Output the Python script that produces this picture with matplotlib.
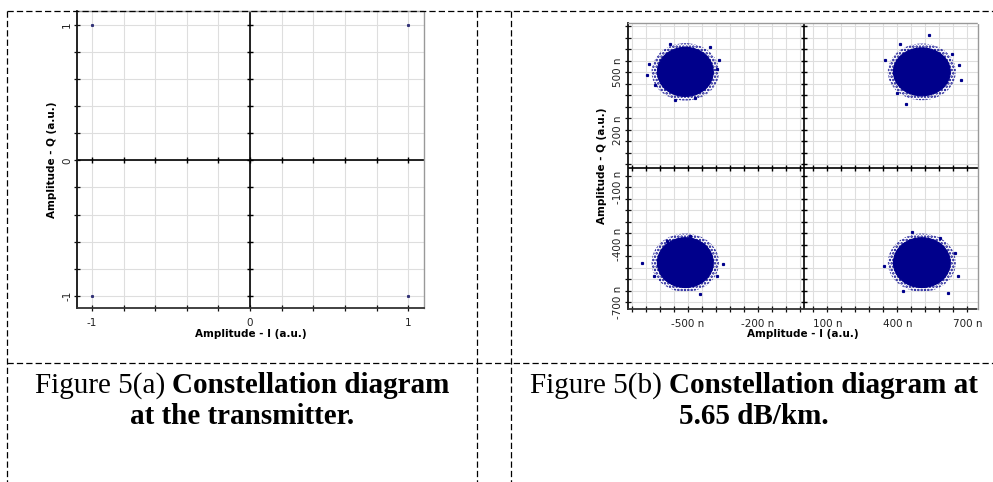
import matplotlib
matplotlib.use('Agg')
import matplotlib.pyplot as plt
from matplotlib.patches import Ellipse
from matplotlib.lines import Line2D

W, H = 993, 482

# --- (a) constellation at the transmitter (a.u.)
tx_I = [-1, 1, -1, 1]
tx_Q = [1, 1, -1, -1]
a_major = [-1, 0, 1]
a_minor = [-1, -0.8, -0.6, -0.4, -0.2, 0, 0.2, 0.4, 0.6, 0.8, 1]

# --- (b) constellation at 5.65 dB/km (values in n)
rx_I = [-510, 505, -510, 505]
rx_Q = [503, 503, -493, -493]
core_rI = [120, 122, 120, 122]
core_rQ = [128, 125, 130, 130]
fringe_rI = [145, 146, 145, 146]
fringe_rQ = [150, 148, 152, 152]
out_I = [-667, -674, -367, -374, -403, -574, -553, -467, -639,
         536, 674, 666, 348, 438, 412, 634, 398,
         -696, -349, -489, -446, -646, -374, -589,
         462, 662, 341, 619, 426, 584, 648]
out_Q = [546, 486, 564, 520, 633, 650, 356, 364, 434,
         694, 460, 538, 564, 335, 650, 598, 390,
         -493, -502, -354, -658, -562, -562, -380,
         -332, -562, -510, -649, -640, -363, -441]
b_xmajor = [-500, -200, 100, 400, 700]
b_ymajor = [-700, -400, -100, 200, 500]
b_xminor = [-740, -680, -620, -560, -500, -440, -380, -320, -260, -200,
            -140, -80, -20, 40, 100, 160, 220, 280, 340, 400, 460, 520,
            580, 640, 700]
b_yminor = [-700, -640, -580, -520, -460, -400, -340, -280, -220, -160,
            -100, -40, 20, 80, 140, 200, 260, 320, 380, 440, 500, 560,
            620, 680, 740]

cap_a = [[("Figure 5(a)", "normal"), ("Constellation diagram", "bold")],
         [("at the transmitter.", "bold")]]
cap_b = [[("Figure 5(b)", "normal"), ("Constellation diagram at", "bold")],
         [("5.65 dB/km.", "bold")]]

navy = '#00008b'
lab_font = dict(family='DejaVu Sans', fontsize=7.5, fontweight='bold')
plt.rcParams['hatch.linewidth'] = 1.2


def fx(px):
    return px / W


def fy(py):
    return 1 - py / H


fig = plt.figure(figsize=(W / 100, H / 100), dpi=100)


def style(ax, xmajor, ymajor, xminor, yminor, xlim, ylim, xlabels, ylabels,
          xlab_y, ylab_x):
    ax.set_xticks(xmajor)
    ax.set_yticks(ymajor)
    ax.set_xticks(xminor, minor=True)
    ax.set_yticks(yminor, minor=True)
    ax.set_xticklabels(xlabels)
    ax.set_yticklabels(ylabels, rotation=90, va='center')
    ax.grid(True, which='both', color='#dedede', lw=0.8)
    ax.set_axisbelow(True)
    ax.tick_params(which='both', direction='inout', length=4, width=0.9,
                   color='#111111', labelsize=7.5, labelcolor='#222222')
    ax.tick_params(axis='x', pad=5)
    ax.tick_params(axis='y', pad=1.5)
    ax.spines['left'].set_color('#111111')
    ax.spines['left'].set_linewidth(1.3)
    ax.spines['bottom'].set_color('#333333')
    ax.spines['bottom'].set_linestyle((0, (1, 1)))
    ax.spines['bottom'].set_linewidth(1.3)
    for s in ['top', 'right']:
        ax.spines[s].set_color('#999999')
        ax.spines[s].set_linestyle((0, (1, 1)))
        ax.spines[s].set_linewidth(1.0)
    ax.axhline(0, color='black', lw=1.2, zorder=2)
    ax.axvline(0, color='black', lw=1.2, zorder=2)
    ax.plot(xminor, [0] * len(xminor), ls='none', marker='|', ms=4,
            mew=1, color='black', zorder=2)
    ax.plot([0] * len(yminor), yminor, ls='none', marker='_', ms=4,
            mew=1, color='black', zorder=2)
    ax.set_xlim(*xlim)
    ax.set_ylim(*ylim)
    ax.set_xlabel('Amplitude - I (a.u.)', **lab_font)
    ax.set_ylabel('Amplitude - Q (a.u.)', **lab_font)
    ax.xaxis.set_label_coords(0.5, xlab_y)
    ax.yaxis.set_label_coords(ylab_x, 0.5)


# panel (a)
ax1 = fig.add_axes([fx(77), fy(308), fx(424) - fx(77), fy(11) - fy(308)])
ax1.plot(tx_I, tx_Q, ls='none', marker='s', ms=1.2, color='#333377', zorder=3)
style(ax1, a_major, a_major, a_minor, a_minor, (-1.095, 1.1), (-1.09, 1.103),
      ['-1', '0', '1'], ['-1', '0', '1'], -0.071, -0.059)

# panel (b)
ax2 = fig.add_axes([fx(628), fy(309), fx(978) - fx(628), fy(23) - fy(309)])
for i in range(len(rx_I)):
    ax2.add_patch(Ellipse((rx_I[i], rx_Q[i]), 2 * fringe_rI[i], 2 * fringe_rQ[i],
                          facecolor='none', edgecolor=navy, hatch='.....',
                          lw=0, zorder=3))
    ax2.add_patch(Ellipse((rx_I[i], rx_Q[i]), 2 * core_rI[i], 2 * core_rQ[i],
                          facecolor=navy, edgecolor=navy, hatch='...',
                          lw=0.8, zorder=3))
ax2.plot(out_I, out_Q, ls='none', marker='s', ms=1.3, color=navy, zorder=3)
style(ax2, b_xmajor, b_ymajor, b_xminor, b_yminor, (-756, 746), (-735, 758),
      [f'{v} n' for v in b_xmajor], [f'{v} n' for v in b_ymajor],
      -0.07, -0.061)

# dashed table borders
dash = dict(color='black', lw=0.9, ls=(0, (5, 2.5)))
fig.add_artist(Line2D([fx(7), fx(993)], [fy(11), fy(11)], **dash))
fig.add_artist(Line2D([fx(7), fx(993)], [fy(363), fy(363)], **dash))
for xv in [7, 477, 511]:
    fig.add_artist(Line2D([fx(xv), fx(xv)], [fy(11), fy(482)], **dash))

# captions (mixed regular / bold on one line)
fs = 21
gap = 0.25 * fs * 100 / 72


def caption(xc, lines, baselines):
    for parts, yb in zip(lines, baselines):
        texts = [fig.text(0, fy(yb), s, fontsize=fs, family='Liberation Serif',
                          fontweight=w, va='baseline', ha='left')
                 for s, w in parts]
        fig.canvas.draw()
        r = fig.canvas.get_renderer()
        widths = [t.get_window_extent(r).width for t in texts]
        x = xc - (sum(widths) + gap * (len(texts) - 1)) / 2
        for t, wd in zip(texts, widths):
            t.set_x(fx(x))
            x += wd + gap


caption(242, cap_a, [393, 424])
caption(754, cap_b, [393, 424])

fig.savefig('out.png', dpi=100)
